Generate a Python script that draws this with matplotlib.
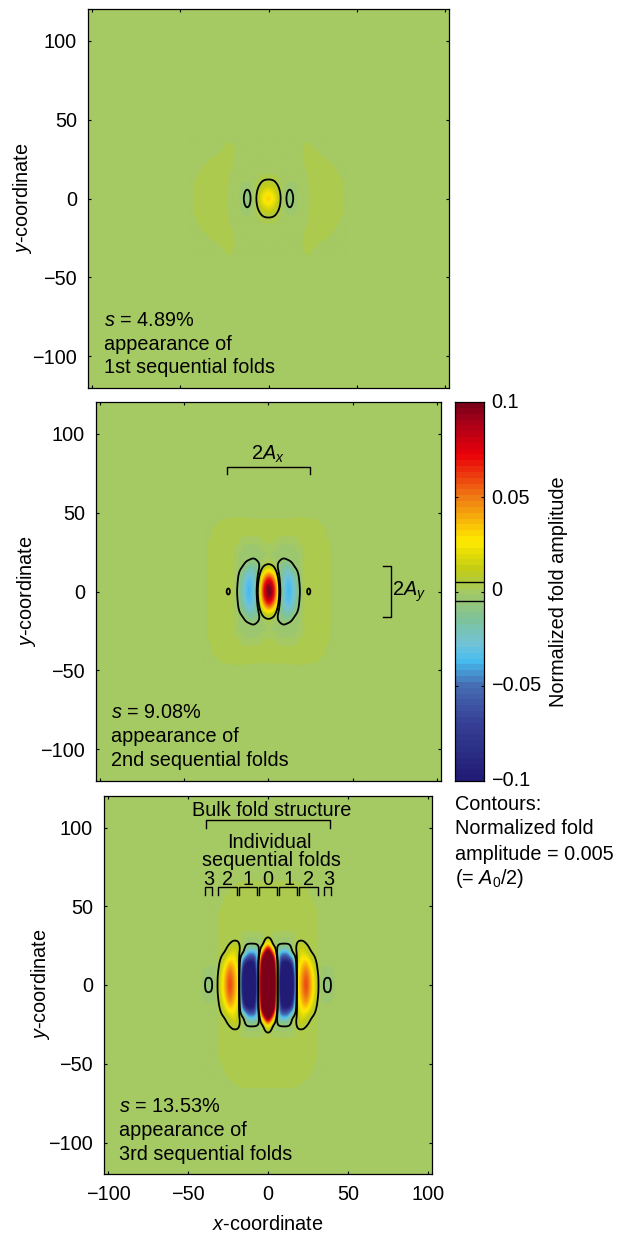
import matplotlib
matplotlib.use('Agg')
import matplotlib.pyplot as plt
from matplotlib.colors import LinearSegmentedColormap
import numpy as np

plt.rcParams['font.family'] = ['Liberation Sans', 'DejaVu Sans']
plt.rcParams['mathtext.fontset'] = 'custom'
plt.rcParams['mathtext.rm'] = 'Liberation Sans'
plt.rcParams['mathtext.it'] = 'Liberation Sans:italic'

W, H = 618, 1233
FS = 14.3

# fold amplitude, in 1e-3, one quadrant (rows y, columns x)
x_step, y_step = 3, 5

amp_1 = np.array([
    [33, 25, 9, -2.5, -7.5, -3.6, -0.3, 0, 2.2, 2.2, 2.2, 2.2, 2.2, 2.2, 2, 0],
    [21, 16, 6, -1.8, -5.8, -2.6, -0.3, 0, 2.2, 2.2, 2.2, 2.2, 2.2, 2.2, 2, 0],
    [8, 6.5, 2.2, -0.5, -1.8, -1.6, 0, 0.6, 2.2, 2.2, 2.2, 2.2, 2.2, 2.2, 1.8, 0],
    [1.8, 1.7, 1, 0, 0, 0, 0, 1, 2.2, 2.2, 2.2, 2.2, 2.2, 2.2, 0.5, 0],
    [0, 0, 0, 0, 0, 0, 0, 1.8, 2.2, 2.2, 2.2, 2.2, 2.2, 0.8, 0, 0],
    [0, 0, 0, 0, 0, 0, 0.5, 2.2, 2.2, 2.2, 2.2, 1.8, 0.5, 0, 0, 0],
    [0, 0, 0, 0, 0, 0, 1.1, 2.2, 2.2, 1.8, 0.5, 0, 0, 0, 0, 0],
    [0, 0, 0, 0, 0, 0, 0, 1.8, 1.7, 0, 0, 0, 0, 0, 0, 0],
    [0, 0, 0, 0, 0, 0, 0, 0, 0, 0, 0, 0, 0, 0, 0, 0],
])

amp_2 = np.array([
    [108, 72, 10, -26, -37, -25, -7.5, 2, 6.2, 2.4, 2, 2, 1.9, 0],
    [88, 60, 6, -27, -35, -23, -6.3, 2, 3.4, 2.2, 2, 2, 1.9, 0],
    [52, 33, -2, -23, -28, -17, -4.4, 2, 2.3, 2, 2, 2, 1.9, 0],
    [11, 7, -8, -15, -17, -6.5, -2, 2, 2, 2, 2, 2, 1.9, 0],
    [1.7, -1, -3.5, -6, -4, -1.8, -1.7, 2, 2, 2, 2, 2, 1.9, 0],
    [-1.8, -1.8, -2, -2, -2, -1.8, -1.6, 1.8, 2, 2, 2, 2, 1.8, 0],
    [1.8, 1.7, -1.6, -1.7, -1.7, -1.6, 1.7, 2, 2, 2, 2, 2, 1.7, 0],
    [2.2, 2.2, 2.1, 2, 2, 2, 2, 2, 2, 2, 2, 1.9, 1, 0],
    [2, 2, 2, 2, 2, 2, 2, 2, 2, 2, 2, 1.8, 0, 0],
    [1.8, 1.9, 2, 2, 2, 2, 2, 2, 2, 1.9, 1.3, 0, 0, 0],
    [0, 0, 0, 0, 0, 0.8, 0.8, 0.8, 0, 0, 0, 0, 0, 0],
])

amp_3 = np.array([
    [300, 210, 0, -170, -220, -150, 8, 42, 60, 38, 14, -1.6, -6.1, -5.7, -1, 0],
    [280, 195, 0, -160, -200, -140, 8, 40, 56, 36, 13, -1.6, -4.9, -4.7, -1, 0],
    [240, 165, 0, -130, -150, -105, 7, 35, 47, 28, 9, -1.6, -2.2, -2, -0.8, 0],
    [200, 135, -4, -90, -90, -62, 6, 26, 32, 17, 5, 0, -0.5, -0.5, 0, 0],
    [130, 62, -13, -42, -42, -9, 5.5, 19, 15, 6, 2.5, 0.5, 0, 0, 0, 0],
    [42, 7, -4, -7, -7, -2.5, 6, 10, 6, 2.5, 2.5, 0, 0, 0, 0, 0],
    [3, 1, -1.6, -1.7, -1.7, -1.6, 2.5, 2.8, 2.5, 2.5, 2.5, 0, 0, 0, 0, 0],
    [3, 2.5, 2.5, 2.5, 2.5, 2.5, 2.5, 2.5, 2.5, 2.5, 2.5, 0, 0, 0, 0, 0],
    [2.5, 2.5, 2.5, 2.5, 2.5, 2.5, 2.5, 2.5, 2.5, 2.5, 2.5, 0, 0, 0, 0, 0],
    [2.5, 2.5, 2.5, 2.5, 2.5, 2.5, 2.5, 2.5, 2.5, 2.5, 2.5, 0, 0, 0, 0, 0],
    [2.5, 2.5, 2.5, 2.5, 2.5, 2.5, 2.5, 2.5, 2.5, 2.5, 1.2, 0, 0, 0, 0, 0],
    [2.5, 2.5, 2.5, 2.5, 2.5, 2.5, 2.5, 2.5, 2.5, 2, 0, 0, 0, 0, 0, 0],
    [2.2, 2.2, 2.2, 2.2, 2.2, 2.2, 2.2, 2.2, 1.8, 0.5, 0, 0, 0, 0, 0, 0],
    [1.8, 1.8, 1.8, 1.8, 1.8, 1.8, 1.7, 1, 0, 0, 0, 0, 0, 0, 0, 0],
    [0, 0, 0, 0, 0, 0, 0, 0, 0, 0, 0, 0, 0, 0, 0, 0],
])

strain_labels = ['4.89', '9.08', '13.53']
seq_labels = ['1st', '2nd', '3rd']
tick_vals = [-100, -50, 0, 50, 100]
tick_text = ['\u2212100', '\u221250', '0', '50', '100']
cbar_ticks = [-0.05, 0, 0.05]
cbar_text = ['\u22120.1', '\u22120.05', '0', '0.05', '0.1']
cbar_text_y = [781, 686, 591, 499, 402]
seq_digits = ['3', '2', '1', '0', '1', '2', '3']
seq_digit_x = [-37.3, -25.4, -12.5, 0, 12.9, 25.4, 37.7]
seq_spans = [(-39.2, -35), (-31.2, -19.2), (-18.3, -6.7), (-5.8, 5.8),
             (7.1, 18.3), (19.2, 31.2), (35.2, 39.2)]

cmap_stops = [
    (-0.1, (33, 28, 118)), (-0.07, (55, 65, 150)), (-0.05, (70, 110, 180)),
    (-0.037, (70, 190, 240)), (-0.028, (115, 195, 215)), (-0.015, (125, 195, 155)),
    (0.0, (165, 201, 99)), (0.012, (195, 205, 20)), (0.027, (255, 235, 0)),
    (0.05, (240, 125, 20)), (0.073, (235, 0, 10)), (0.09, (170, 0, 25)),
    (0.1, (125, 0, 25)),
]
fold_cmap = LinearSegmentedColormap.from_list(
    'fold', [((v + 0.1) / 0.2, tuple(c / 255 for c in rgb)) for v, rgb in cmap_stops], N=65)


def smooth_rows(z, n, sigma):
    # catmull-rom between table columns, overshoot kept small, then a little blur
    pos = np.arange((z.shape[1] - 1) * n + 1) / n
    k = np.minimum(pos.astype(int), z.shape[1] - 2)
    t = pos - k
    p0 = z[:, np.maximum(k - 1, 0)]
    p1 = z[:, k]
    p2 = z[:, k + 1]
    p3 = z[:, np.minimum(k + 2, z.shape[1] - 1)]
    out = 0.5 * (2 * p1 + (p2 - p0) * t + (2 * p0 - 5 * p1 + 4 * p2 - p3) * t ** 2
                 + (3 * p1 - p0 - 3 * p2 + p3) * t ** 3)
    margin = 0.15 * np.abs(p2 - p1)
    out = np.clip(out, np.minimum(p1, p2) - margin, np.maximum(p1, p2) + margin)
    r = np.arange(-3 * sigma, 3 * sigma + 1)
    kernel = np.exp(-0.5 * (r / sigma) ** 2)
    kernel /= kernel.sum()
    return np.array([np.convolve(row, kernel, mode='same') for row in out])


def full_field(quadrant):
    z = np.hstack([quadrant[:, :0:-1], quadrant])
    z = np.vstack([z[:0:-1], z]) / 1000.0
    fine = smooth_rows(smooth_rows(z, 12, 3).T, 20, 6).T
    nx = (quadrant.shape[1] - 1) * x_step
    ny = (quadrant.shape[0] - 1) * y_step
    return fine, nx, ny


def add_axes_px(left, top, right, bottom):
    return fig.add_axes([left / W, 1 - bottom / H, (right - left) / W, (bottom - top) / H])


def label_px(x, y, s, **kw):
    kw.setdefault('fontsize', FS)
    kw.setdefault('va', 'center')
    fig.text(x / W, 1 - y / H, s, **kw)


def draw_panel(ax, quadrant):
    fine, nx, ny = full_field(quadrant)
    xs = np.linspace(-nx, nx, fine.shape[1])
    ys = np.linspace(-ny, ny, fine.shape[0])
    ax.set_facecolor(fold_cmap(0.5))
    ax.imshow(fine, cmap=fold_cmap, vmin=-0.1, vmax=0.1, extent=[-nx, nx, -ny, ny],
              origin='lower', interpolation='bilinear', aspect='auto')
    ax.contour(xs, ys, fine, levels=[-0.005, 0.005], colors='k', linewidths=1.3,
               linestyles='solid')
    ax.set_xlim(-102.5, 102.5)
    ax.set_ylim(-120, 120)
    ax.set_xticks(tick_vals)
    ax.set_yticks(tick_vals)
    ax.set_yticklabels(tick_text, fontsize=FS)
    ax.tick_params(direction='in', top=True, right=True, length=2.5, width=0.8, pad=8)
    ax.tick_params(axis='x', labelbottom=False)
    for sp in ax.spines.values():
        sp.set_linewidth(0.9)


fig = plt.figure(figsize=(W / 100, H / 100), dpi=100)

ax1 = add_axes_px(88, 9, 449, 388)
ax2 = add_axes_px(96, 402, 441, 781)
ax3 = add_axes_px(104, 796, 432, 1174)
draw_panel(ax1, amp_1)
draw_panel(ax2, amp_2)
draw_panel(ax3, amp_3)

ax3.tick_params(axis='x', labelbottom=True)
ax3.set_xticklabels(tick_text, fontsize=FS)

for i, (lx, ly, ylab_x, ylab_y) in enumerate([(104, 320, 23, 198), (111, 713, 27, 591),
                                              (119, 1106, 40, 984)]):
    label_px(lx, ly, '$\\mathit{s}$ = %s%%' % strain_labels[i])
    label_px(lx, ly + 24, 'appearance of')
    label_px(lx, ly + 48, '%s sequential folds' % seq_labels[i])
    label_px(ylab_x, ylab_y, '$\\mathit{y}$-coordinate', rotation=90, ha='center')
label_px(268, 1224, '$\\mathit{x}$-coordinate', ha='center')

# brackets, panel 2
ax2.plot([-24.7, -24.7, 24.7, 24.7], [74.5, 79, 79, 74.5], color='k', lw=1.0)
ax2.plot([68, 72.6, 72.6, 68], [16, 16, -16, -16], color='k', lw=1.0)
label_px(268, 454, '2$\\mathit{A}_{\\mathit{x}}$', ha='center')
label_px(392, 592, '2$\\mathit{A}_{\\mathit{y}}$')

# brackets, panel 3
ax3.plot([-38.75, -38.75, 38.75, 38.75], [99.7, 105, 105, 99.7], color='k', lw=1.0)
for a, b in seq_spans:
    ax3.plot([a, a, b, b], [57.1, 62.2, 62.2, 57.1], color='k', lw=1.0)
for d, x in zip(seq_digits, seq_digit_x):
    ax3.text(x, 67, d, fontsize=FS, ha='center', va='center')
label_px(272, 811, 'Bulk fold structure', ha='center')
label_px(269, 843, 'Individual', ha='center')
label_px(271, 860, 'sequential folds', ha='center')

# colour bar
cax = add_axes_px(455, 402, 484, 781)
bar = np.linspace(-0.1, 0.1, 65).reshape(-1, 1)
cax.imshow(bar, cmap=fold_cmap, vmin=-0.1, vmax=0.1, extent=[0, 1, -0.1, 0.1], origin='lower',
           aspect='auto', interpolation='nearest')
cax.axhline(0.005, color='k', lw=1.0)
cax.axhline(-0.005, color='k', lw=1.0)
cax.set_xticks([])
cax.set_yticks(cbar_ticks)
cax.set_yticklabels([])
cax.tick_params(direction='in', left=True, right=True, length=2.2, width=0.8)
for sp in cax.spines.values():
    sp.set_linewidth(0.9)
for s, y in zip(cbar_text, cbar_text_y):
    label_px(491, y, s)
label_px(558, 592, 'Normalized fold amplitude', rotation=90, ha='center')

label_px(455, 805, 'Contours:')
label_px(455, 829, 'Normalized fold')
label_px(455, 854, 'amplitude = 0.005')
label_px(455, 878, '(= $\\mathit{A}_0$/2)')

fig.savefig('out.png', dpi=100)
